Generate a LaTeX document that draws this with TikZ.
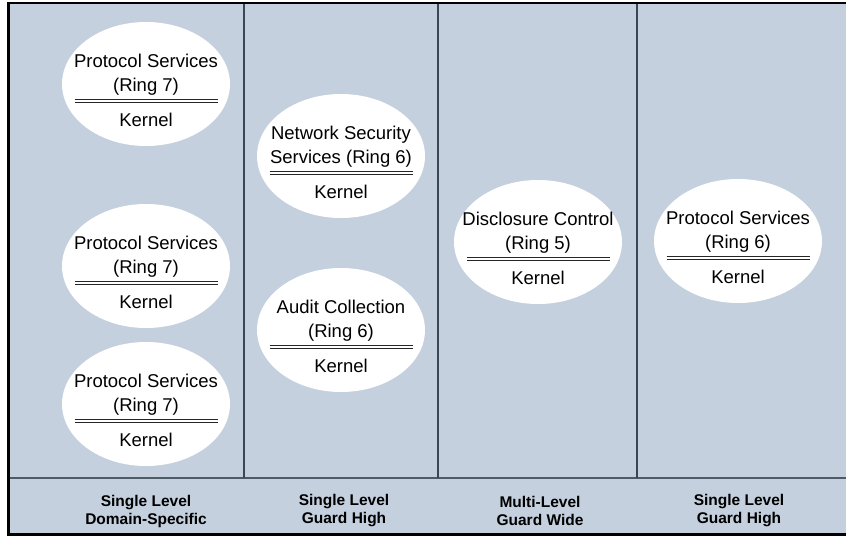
\documentclass[tikz,border=0pt]{standalone}
\usepackage{fontspec}
\setmainfont{Liberation Sans}
\usetikzlibrary{shapes.geometric}
\definecolor{panel}{RGB}{196,208,222}
\definecolor{divider}{RGB}{60,70,82}
\definecolor{bandline}{RGB}{78,90,102}
\begin{document}
\begin{tikzpicture}[x=1pt,y=-1pt,
  blob/.style={ellipse,fill=white,draw=none,minimum width=168pt,minimum height=124pt,inner sep=0pt},
  svc/.style={align=center,font=\fontsize{18.5}{23.5}\selectfont,inner sep=0pt},
  kern/.style={font=\fontsize{18.5}{22}\selectfont,inner sep=0pt},
  dbl/.style={draw=black!85,double=white,double distance=1.6pt,line width=0.9pt},
  lbl/.style={align=center,font=\bfseries\fontsize{15.5}{18}\selectfont,inner sep=0pt},
  sep/.style={draw=divider,line width=1.3pt},
]
\useasboundingbox (0,0) rectangle (846,536);
% background frame
\fill[panel] (8.7,3) rectangle (848,534.5);
\coordinate (bl) at (8.7,478);
\coordinate (br) at (848,478);
\draw[draw=bandline,line width=1.7pt] (bl) -- (br);
\coordinate (v1t) at (244,3); \coordinate (v1b) at (244,478);
\coordinate (v2t) at (438,3); \coordinate (v2b) at (438,478);
\coordinate (v3t) at (637,3); \coordinate (v3b) at (637,478);
\draw[sep] (v1t) -- (v1b);
\draw[sep] (v2t) -- (v2b);
\draw[sep] (v3t) -- (v3b);
\draw[black,line width=2.8pt] (8.7,3) rectangle (848,534.5);

% service ellipse blocks
\newcommand{\svcblob}[5]{%
  \node[blob] (#1) at (#2,#3) {};
  \node[svc] (#1t) at (#2,#3-9.5) {#4};
  \coordinate (#1l) at (#2-71.5,#3+17);
  \coordinate (#1r) at (#2+71.5,#3+17);
  \draw[dbl] (#1l) -- (#1r);
  \node[kern] (#1k) at (#2,#3+36) {#5};
}
\svcblob{ea}{146}{84}{Protocol Services\\(Ring 7)}{Kernel}
\svcblob{eb}{146}{266}{Protocol Services\\(Ring 7)}{Kernel}
\svcblob{ec}{146}{404}{Protocol Services\\(Ring 7)}{Kernel}
\svcblob{ed}{341}{156}{Network Security\\Services (Ring 6)}{Kernel}
\svcblob{ee}{341}{330}{Audit Collection\\(Ring 6)}{Kernel}
\svcblob{ef}{538}{242}{Disclosure Control\\(Ring 5)}{Kernel}
\svcblob{eg}{738}{241}{Protocol Services\\(Ring 6)}{Kernel}

% bottom labels
\node[lbl] (la) at (146,511) {Single Level\\Domain-Specific};
\node[lbl] (lb) at (344,511) {Single Level\\Guard High};
\node[lbl] (lc) at (540,511) {Multi-Level\\Guard Wide};
\node[lbl] (ld) at (739,511) {Single Level\\Guard High};
\end{tikzpicture}
\end{document}
